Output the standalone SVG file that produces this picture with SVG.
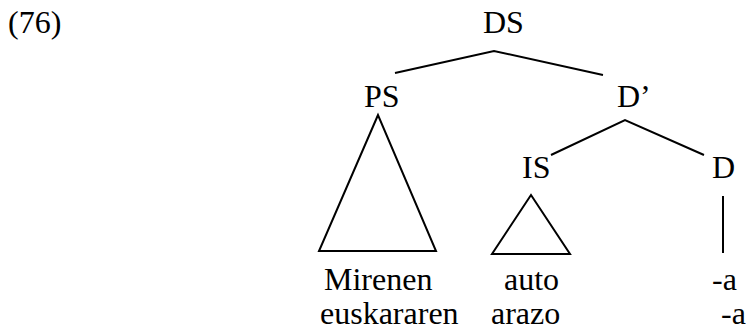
<svg xmlns="http://www.w3.org/2000/svg" width="746" height="331" viewBox="0 0 746 331">
<style>
text{font-family:"Liberation Serif","Times New Roman",serif;font-size:32px;fill:#000}
.e{stroke:#000;stroke-width:2;fill:none}
</style>
<rect width="746" height="331" fill="#fff"/>
<text x="8" y="33">(76)</text>
<g id="DS"><text x="483" y="33">DS</text></g>
<g id="PS"><text x="364" y="107">PS</text></g>
<g id="Dbar"><text x="617" y="107">D’</text></g>
<g id="IS"><text x="522" y="178">IS</text></g>
<g id="D"><text x="712" y="178">D</text></g>
<g id="PS-leaf"><text x="324" y="290">Mirenen</text><text x="320" y="324">euskararen</text></g>
<g id="IS-leaf"><text x="504" y="290">auto</text><text x="491" y="324">arazo</text></g>
<g id="D-leaf"><text x="712" y="290">-a</text><text x="721" y="324">-a</text></g>
<g id="connectors" class="e">
<polyline points="395,73 494,51 603,75"/>
<polyline points="551,155 625,120 704,155"/>
<polygon points="378,115 319,251 436,251"/>
<polygon points="531,195 492,254 570,254"/>
<line x1="723" y1="196" x2="723" y2="253"/>
</g>
</svg>
